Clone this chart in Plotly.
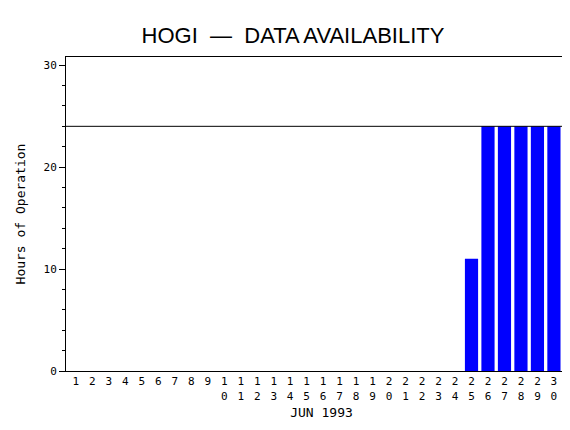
import plotly.graph_objects as go

days = list(range(1, 32))
hours = [0] * 24 + [11, 24, 24, 24, 24, 24, 0]
day_labels = ["<br>".join(str(d)) for d in days]
full_day = 24

fnt = "DejaVu Sans Mono"

fig = go.Figure(
    go.Bar(x=days, y=hours, width=0.8, marker_color="#0000ff", marker_line_width=0)
)
fig.add_hline(y=full_day, line_color="black", line_width=1)

fig.update_layout(
    width=570, height=430,
    margin=dict(l=58, r=1, t=49, b=67),
    paper_bgcolor="white", plot_bgcolor="white",
    showlegend=False,
    title=dict(text="HOGI  —  DATA AVAILABILITY", x=0.5, xanchor="center", y=0.955,
               font=dict(family="Liberation Sans", size=22, color="black")),
    font=dict(family=fnt, size=11, color="black"),
)
fig.update_xaxes(
    range=[0.4, 31.4], tickmode="array", tickvals=days, ticktext=day_labels,
    ticks="", showgrid=False, showline=True, mirror=True, linecolor="black",
    linewidth=1, title=dict(text="JUN 1993", standoff=6), tickfont=dict(size=11),
)
fig.update_yaxes(
    range=[0, 30.8], tickvals=[0, 10, 20, 30], ticks="outside", ticklen=6,
    minor=dict(dtick=2, ticks="outside", ticklen=3, tickcolor="black"),
    tickcolor="black", showgrid=False, zeroline=False, showline=True, mirror=True,
    linecolor="black", linewidth=1, title=dict(text="Hours of Operation", standoff=14),
)
fig.write_html("out.html")
